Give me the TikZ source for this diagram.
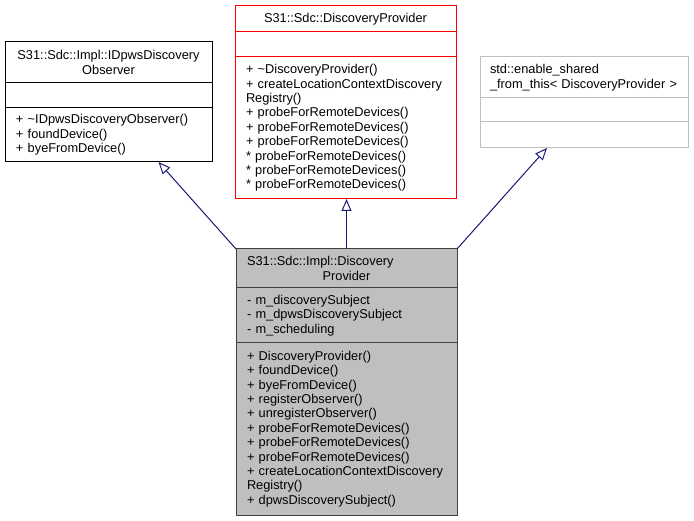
\documentclass[tikz,border=0pt]{standalone}
\usepackage{fontspec}
\setmainfont{Liberation Sans}
\usetikzlibrary{arrows.meta,positioning}
\definecolor{edgenavy}{RGB}{25,25,112}
\definecolor{baseedge}{RGB}{191,191,191}
\definecolor{mainfill}{RGB}{191,191,191}
\definecolor{mainedge}{RGB}{64,64,64}

\tikzset{
  classpart/.style={rectangle, draw, outer sep=0pt, inner xsep=11pt, inner ysep=0pt, align=left, font=\fontsize{12.8}{14.4}\selectfont},
  inherits/.style={draw=edgenavy, line width=1pt, -{Triangle[open, length=12pt, width=10pt]}},
}

\begin{document}
\begin{tikzpicture}[x=1pt, y=-1pt, line width=1pt]
    \useasboundingbox (0,0) rectangle (694,521);

    % base: IDpwsDiscoveryObserver
    \node[classpart, anchor=north west, text width=185pt, minimum height=41pt, align=center] (obsname) at (5,42) {S31::Sdc::Impl::IDpwsDiscovery\\Observer};
    \node[classpart, below=0pt of obsname, text width=185pt, minimum height=25pt] (obsattr) {};
    \node[classpart, below=0pt of obsattr, text width=185pt, minimum height=54pt] (obsops) {+ \textasciitilde IDpwsDiscoveryObserver()\\+ foundDevice()\\+ byeFromDevice()};

    % base: DiscoveryProvider
    \node[classpart, draw=red, anchor=north west, text width=199pt, minimum height=26pt, align=center] (provname) at (235,6) {S31::Sdc::DiscoveryProvider};
    \node[classpart, draw=red, below=0pt of provname, text width=199pt, minimum height=25pt] (provattr) {};
    \node[classpart, draw=red, below=0pt of provattr, text width=199pt, minimum height=142pt] (provops) {+ \textasciitilde DiscoveryProvider()\\+ createLocationContextDiscovery\\Registry()\\+ probeForRemoteDevices()\\+ probeForRemoteDevices()\\+ probeForRemoteDevices()\\{}* probeForRemoteDevices()\\{}* probeForRemoteDevices()\\{}* probeForRemoteDevices()};

    % base: enable_shared_from_this
    \node[classpart, draw=baseedge, inner xsep=10pt, anchor=north west, text width=188pt, minimum height=41pt] (shrname) at (480,57) {std::enable\_shared\\\mbox{\_from\_this< DiscoveryProvider >}};
    \node[classpart, draw=baseedge, below=0pt of shrname, text width=186pt, minimum height=24pt] (shrattr) {};
    \node[classpart, draw=baseedge, below=0pt of shrattr, text width=186pt, minimum height=26pt] (shrops) {};

    % derived class
    \node[classpart, draw=mainedge, fill=mainfill, anchor=north west, text width=199pt, minimum height=39pt] (mainname) at (236,249) {S31::Sdc::Impl::Discovery\\\makebox[\linewidth][c]{Provider}};
    \node[classpart, draw=mainedge, fill=mainfill, below=0pt of mainname, text width=199pt, minimum height=55pt] (mainattr) {- m\_discoverySubject\\- m\_dpwsDiscoverySubject\\- m\_scheduling};
    \node[classpart, draw=mainedge, fill=mainfill, below=0pt of mainattr, text width=199pt, minimum height=172pt] (mainops) {+ DiscoveryProvider()\\+ foundDevice()\\+ byeFromDevice()\\+ registerObserver()\\+ unregisterObserver()\\+ probeForRemoteDevices()\\+ probeForRemoteDevices()\\+ probeForRemoteDevices()\\+ createLocationContextDiscovery\\Registry()\\+ dpwsDiscoverySubject()};

    \coordinate (obstip) at ([xshift=50pt]obsops.south);
    \coordinate (shrtip) at ([xshift=-37pt]shrops.south);
    \draw[inherits] (mainname.north west) -- (obstip);
    \draw[inherits] (mainname.north) -- (mainname.north |- provops.south);
    \draw[inherits] (mainname.north east) -- (shrtip);
\end{tikzpicture}
\end{document}
